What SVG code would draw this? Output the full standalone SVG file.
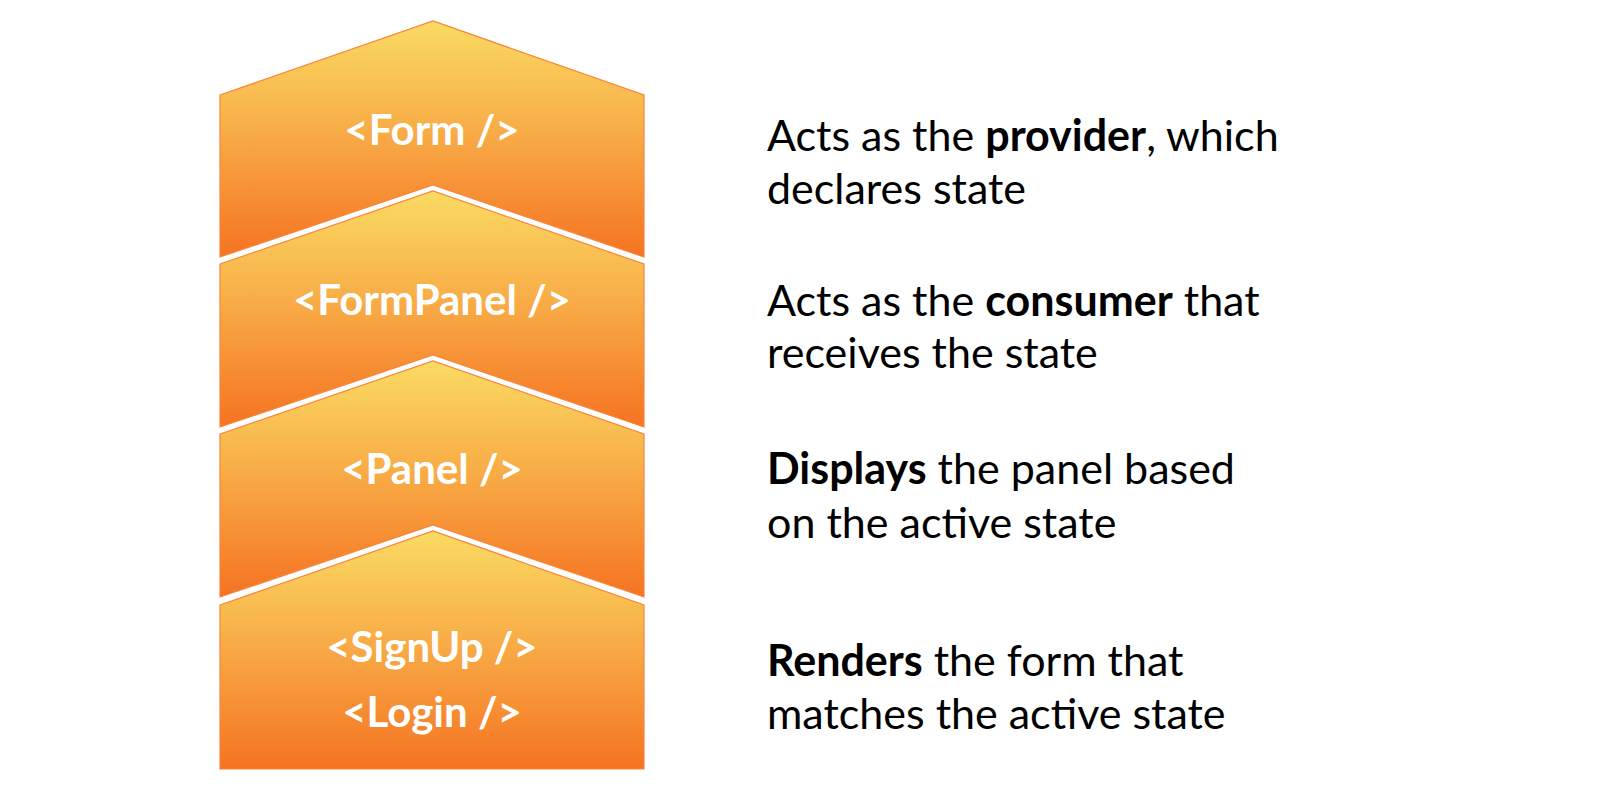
<svg xmlns="http://www.w3.org/2000/svg" width="1600" height="800" viewBox="0 0 1600 800">
<defs>
<linearGradient id="g" x1="0" y1="0" x2="0" y2="1">
<stop offset="0" stop-color="#FADB62"/>
<stop offset="0.45" stop-color="#F8AE48"/>
<stop offset="1" stop-color="#F57322"/>
</linearGradient>
<style>
.sh{fill:url(#g);stroke:#F7863A;stroke-width:1.2}
.lbl{font-family:Lato,"Open Sans",sans-serif;font-weight:bold;font-size:42px;fill:#fff;text-anchor:middle}
.desc{font-family:Lato,"Open Sans",sans-serif;font-size:43px;fill:#000}
.b{font-weight:bold}
</style>
</defs>
<rect width="1600" height="800" fill="#fff"/>
<g id="form">
<path class="sh" d="M220 95 L433 21 L644 95 L644 257 L433 185 L220 257 Z"/>
<text class="lbl" x="432" y="145">&lt;Form /&gt;</text>
</g>
<g id="formpanel">
<path class="sh" d="M220 264 L433 191 L644 264 L644 427 L433 355 L220 427 Z"/>
<text class="lbl" x="432" y="315">&lt;FormPanel /&gt;</text>
</g>
<g id="panel">
<path class="sh" d="M220 434 L433 361 L644 434 L644 597 L433 525 L220 597 Z"/>
<text class="lbl" x="432" y="484">&lt;Panel /&gt;</text>
</g>
<g id="signup-login">
<path class="sh" d="M220 605 L433 531 L644 605 L644 769 L220 769 Z"/>
<text class="lbl" x="432" y="662">&lt;SignUp /&gt;</text>
<text class="lbl" x="432" y="727">&lt;Login /&gt;</text>
</g>
<g id="descriptions">
<text class="desc" x="767" y="151">Acts as the <tspan class="b">provider</tspan>, which</text>
<text class="desc" x="767" y="204">declares state</text>
<text class="desc" x="767" y="316">Acts as the <tspan class="b">consumer</tspan> that</text>
<text class="desc" x="767" y="368">receives the state</text>
<text class="desc" x="767" y="484"><tspan class="b">Displays</tspan> the panel based</text>
<text class="desc" x="767" y="538">on the active state</text>
<text class="desc" x="767" y="676"><tspan class="b">Renders</tspan> the form that</text>
<text class="desc" x="767" y="729">matches the active state</text>
</g>
<g id="connectors"/>
</svg>
